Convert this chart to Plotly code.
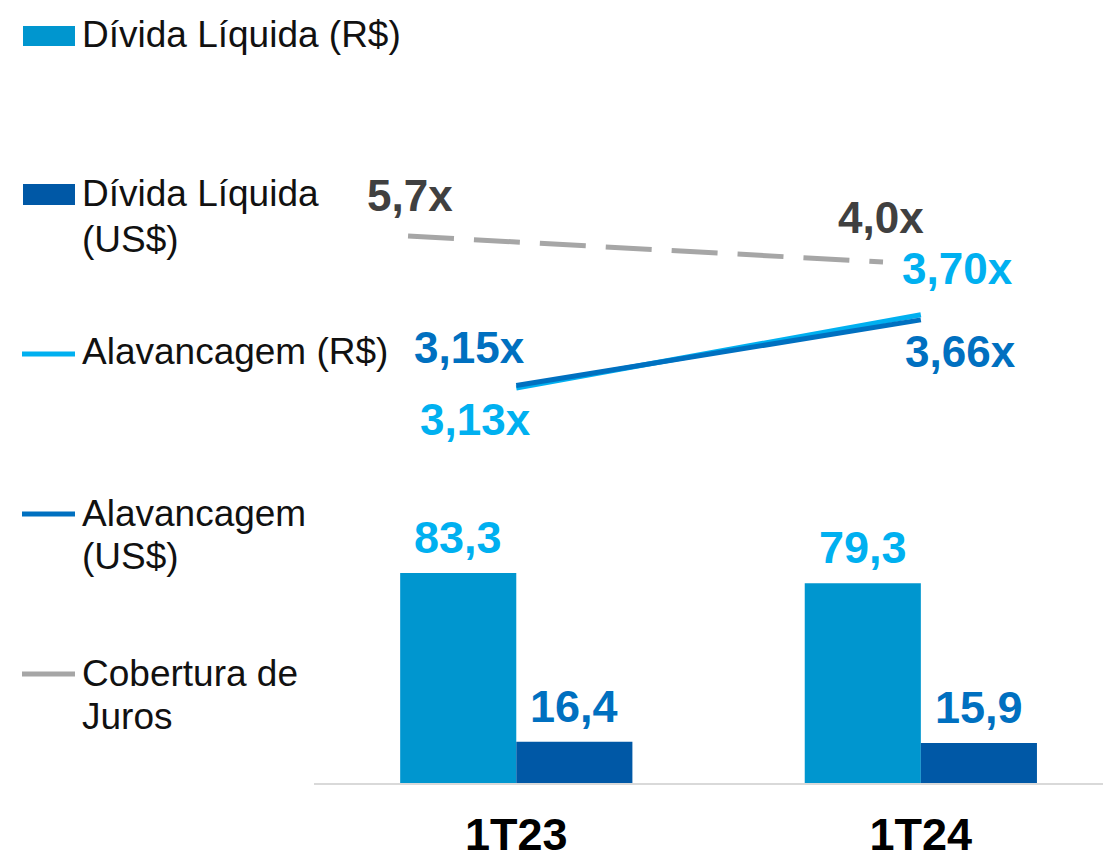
import plotly.graph_objects as go

# ---------------- data ----------------
categories = ["1T23", "1T24"]
divida_brl = [83.3, 79.3]          # Dívida Líquida (R$)
divida_usd = [16.4, 15.9]          # Dívida Líquida (US$)
alav_brl = [3.13, 3.70]            # Alavancagem (R$)
alav_usd = [3.15, 3.66]            # Alavancagem (US$)
cobertura = [5.7, 4.0]             # Cobertura de Juros

legend_items = ["Dívida Líquida (R$)", "Dívida Líquida<br>(US$)", "Alavancagem (R$)",
                "Alavancagem<br>(US$)", "Cobertura de<br>Juros"]

# ---------------- style ----------------
C_BRL_BAR = "#0096cf"
C_USD_BAR = "#0058a6"
C_LIGHT = "#00b0f0"
C_DARK = "#0070c0"
C_GRAY = "#a6a6a6"
C_LABEL_GRAY = "#404040"
NUM_FONT = "Liberation Sans"
TXT_FONT = "Liberation Sans"

OFF = 8                      # page body margin
W, H = 1111 - OFF, 855 - OFF
PLOT_BOTTOM = 783 - OFF      # baseline in figure pixels (plot area height, t=0)

# axis scales (pixels per unit) and lower bounds
BAR_PPU, BAR_MIN = 2.52, 0.0
LEV_PPU, LEV_MIN = 128.5, 0.056
COB_PPU, COB_MIN = 15.29, -30.07


def fmt(v, d):
    return f"{v:.{d}f}".replace(".", ",")


def px_x(px):
    return (px - OFF) / W


def px_y(py):
    return (PLOT_BOTTOM - (py - OFF)) / PLOT_BOTTOM


def rng(lo, ppu):
    return [lo, lo + PLOT_BOTTOM / ppu]


fig = go.Figure()

fig.add_trace(go.Bar(x=categories, y=divida_brl, name=legend_items[0],
                     marker=dict(color=C_BRL_BAR, line=dict(width=0)),
                     xaxis="x", yaxis="y", showlegend=False, hoverinfo="skip"))
fig.add_trace(go.Bar(x=categories, y=divida_usd, name=legend_items[1],
                     marker=dict(color=C_USD_BAR, line=dict(width=0)),
                     xaxis="x", yaxis="y", showlegend=False, hoverinfo="skip"))

fig.add_trace(go.Scatter(x=categories, y=alav_brl, mode="lines", name=legend_items[2],
                         line=dict(color=C_LIGHT, width=5),
                         xaxis="x", yaxis="y2", showlegend=False, hoverinfo="skip"))
fig.add_trace(go.Scatter(x=categories, y=alav_usd, mode="lines", name=legend_items[3],
                         line=dict(color=C_DARK, width=5),
                         xaxis="x", yaxis="y2", showlegend=False, hoverinfo="skip"))
fig.add_trace(go.Scatter(x=categories, y=cobertura, mode="lines", name=legend_items[4],
                         line=dict(color=C_GRAY, width=5, dash="46px,20px"),
                         xaxis="x2", yaxis="y3", showlegend=False, hoverinfo="skip"))

annotations = []
# bar value labels
for i, c in enumerate(categories):
    annotations.append(dict(x=c, y=divida_brl[i], xref="x", yref="y", text=fmt(divida_brl[i], 1),
                            showarrow=False, xshift=-58, yanchor="bottom", yshift=8,
                            font=dict(family=NUM_FONT, size=45, color=C_LIGHT, weight="bold")))
    annotations.append(dict(x=c, y=divida_usd[i], xref="x", yref="y", text=fmt(divida_usd[i], 1),
                            showarrow=False, xshift=58, yanchor="bottom", yshift=8,
                            font=dict(family=NUM_FONT, size=45, color=C_DARK, weight="bold")))

# line value labels (offsets in px)
lev_brl_off = [(-41, -32), (37, 46)]
lev_usd_off = [(-47, 38), (40, -32)]
cob_off = [(2, 41), (-2, 45)]
for i, c in enumerate(categories):
    dx, dy = lev_brl_off[i]
    annotations.append(dict(x=c, y=alav_brl[i], xref="x", yref="y2", text=fmt(alav_brl[i], 2) + "x",
                            showarrow=False, xshift=dx, yshift=dy,
                            font=dict(family=NUM_FONT, size=44, color=C_LIGHT, weight="bold")))
    dx, dy = lev_usd_off[i]
    annotations.append(dict(x=c, y=alav_usd[i], xref="x", yref="y2", text=fmt(alav_usd[i], 2) + "x",
                            showarrow=False, xshift=dx, yshift=dy,
                            font=dict(family=NUM_FONT, size=44, color=C_DARK, weight="bold")))
    dx, dy = cob_off[i]
    annotations.append(dict(x=c, y=cobertura[i], xref="x2", yref="y3", text=fmt(cobertura[i], 1) + "x",
                            showarrow=False, xshift=dx, yshift=dy,
                            font=dict(family=NUM_FONT, size=44, color=C_LABEL_GRAY, weight="bold")))

# custom legend
shapes = []
leg_font = dict(family=TXT_FONT, size=37, color="#111111")
shapes.append(dict(type="rect", xref="paper", yref="paper", x0=px_x(23), x1=px_x(75),
                   y0=px_y(46), y1=px_y(26), fillcolor=C_BRL_BAR, line=dict(width=0)))
shapes.append(dict(type="rect", xref="paper", yref="paper", x0=px_x(23), x1=px_x(75),
                   y0=px_y(205), y1=px_y(184), fillcolor=C_USD_BAR, line=dict(width=0)))
for py, col in [(354, C_LIGHT), (514, C_DARK), (674, C_GRAY)]:
    shapes.append(dict(type="line", xref="paper", yref="paper", x0=px_x(22), x1=px_x(75),
                       y0=px_y(py), y1=px_y(py), line=dict(color=col, width=5)))

legend_lines = [
    (legend_items[0], 35),
    ("Dívida Líquida", 193),
    ("(US$)", 239),
    ("Alavancagem (R$)", 351),
    ("Alavancagem", 513),
    ("(US$)", 556),
    ("Cobertura de", 673),
    ("Juros", 716),
]
for txt, py in legend_lines:
    annotations.append(dict(x=px_x(80), y=px_y(py), xref="paper", yref="paper", text=txt,
                            showarrow=False, xanchor="left", yanchor="middle", font=leg_font))

x_dom = [(314 - OFF) / W, 1]
fig.update_layout(
    width=W, height=H,
    margin=dict(l=0, r=0, t=0, b=H - PLOT_BOTTOM),
    paper_bgcolor="white", plot_bgcolor="white",
    barmode="group", bargap=0.426, bargroupgap=0,
    showlegend=False,
    xaxis=dict(domain=x_dom, type="category", categoryarray=categories,
               range=[-0.5, 1.47], showgrid=False, zeroline=False, automargin=False,
               showline=True, linecolor="#d9d9d9", linewidth=2,
               ticks="", tickfont=dict(family=NUM_FONT, size=45, color="#000000", weight="bold"),
               ticklabelstandoff=11, fixedrange=True),
    xaxis2=dict(domain=x_dom, type="category", categoryarray=categories, overlaying="x",
                range=[-0.198, 1.48], visible=False, fixedrange=True),
    yaxis=dict(range=rng(BAR_MIN, BAR_PPU), visible=False, fixedrange=True, automargin=False),
    yaxis2=dict(range=rng(LEV_MIN, LEV_PPU), overlaying="y", visible=False, fixedrange=True),
    yaxis3=dict(range=rng(COB_MIN, COB_PPU), overlaying="y", anchor="x2", visible=False,
                fixedrange=True),
    annotations=annotations,
    shapes=shapes,
)

fig.write_html("out.html")
